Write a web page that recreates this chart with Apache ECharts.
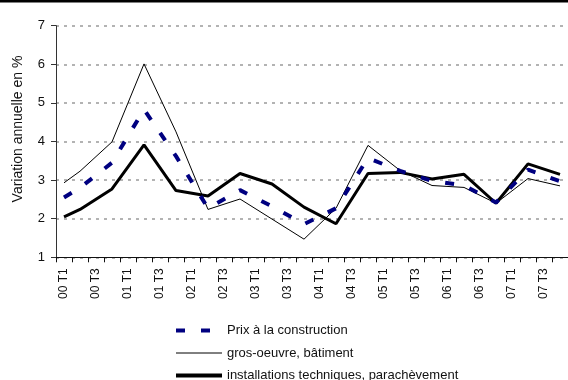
<!DOCTYPE html>
<html>
<head>
<meta charset="utf-8">
<script src="https://cdn.jsdelivr.net/npm/echarts@6/dist/echarts.min.js"></script>
<style>
  html, body { margin: 0; padding: 0; background: #fff; }
  #chart { width: 568px; height: 380px; }
</style>
</head>
<body>
<div id="chart"></div>
<script>
// Quarters (T1..T4) from 2000 to 2007
const quarters = [
  '00 T1','00 T2','00 T3','00 T4','01 T1','01 T2','01 T3','01 T4',
  '02 T1','02 T2','02 T3','02 T4','03 T1','03 T2','03 T3','03 T4',
  '04 T1','04 T2','04 T3','04 T4','05 T1','05 T2','05 T3','05 T4',
  '06 T1','06 T2','06 T3','06 T4','07 T1','07 T2','07 T3','07 T4'
];

// Annual change in %, null where no value is published (line joins across)
const prixConstruction = [
  2.55, 2.80, null, 3.45, null, 4.83, null, 3.62,
  null, 2.27, null, 2.74, null, 2.32, null, 1.86,
  null, 2.27, null, 3.57, null, 3.24, null, 2.98,
  null, 2.86, null, 2.42, null, 3.27, null, 2.97
];
const grosOeuvre = [
  2.93, 3.23, null, 3.99, null, 6.01, null, 4.25,
  null, 2.24, null, 2.51, null, 1.99, null, 1.47,
  null, 2.27, null, 3.90, null, 3.25, null, 2.86,
  null, 2.81, null, 2.40, null, 3.04, null, 2.85
];
const installations = [
  2.05, 2.24, null, 2.77, null, 3.91, null, 2.73,
  null, 2.59, null, 3.17, null, 2.90, null, 2.30,
  null, 1.87, null, 3.17, null, 3.20, null, 3.03,
  null, 3.15, null, 2.40, null, 3.42, null, 3.15
];

const seriesNames = [
  'Prix à la construction',
  'gros-oeuvre, bâtiment',
  'installations techniques, parachèvement'
];
const yTicks = { min: 1, max: 7, step: 1 };

const FONT = '"Liberation Sans", Arial, sans-serif';
const chart = echarts.init(document.getElementById('chart'), null, { renderer: 'canvas' });

chart.setOption({
  animation: false,
  backgroundColor: '#fff',
  graphic: [{
    type: 'rect',
    left: 0, top: 0,
    shape: { width: 568, height: 2.5 },
    style: { fill: '#000' }
  }],
  grid: { left: 56, top: 25.7, width: 521.3, height: 231.6, containLabel: false },
  legend: {
    orient: 'vertical',
    left: 174,
    top: 324,
    height: 120,
    padding: 0,
    itemWidth: 46,
    itemHeight: 14,
    itemGap: 9.5,
    itemStyle: { opacity: 0, borderWidth: 0 },
    textStyle: { fontFamily: FONT, fontSize: 13, color: '#111' },
    data: [
      { name: seriesNames[0], lineStyle: { type: [9, 16], width: 4, color: '#000080' } },
      { name: seriesNames[1], lineStyle: { width: 1, color: '#000' } },
      { name: seriesNames[2], lineStyle: { width: 4, color: '#000' } }
    ]
  },
  xAxis: {
    type: 'category',
    data: quarters,
    boundaryGap: true,
    axisLine: { lineStyle: { color: '#111', width: 1 } },
    axisTick: { show: true, interval: 0, length: 5, lineStyle: { color: '#111' } },
    axisLabel: {
      interval: 1,
      rotate: 90,
      margin: 11,
      fontFamily: FONT,
      fontSize: 12,
      color: '#111'
    },
    splitLine: { show: false }
  },
  yAxis: {
    type: 'value',
    min: yTicks.min,
    max: yTicks.max,
    interval: yTicks.step,
    name: 'Variation annuelle en %',
    nameLocation: 'middle',
    nameRotate: 90,
    nameGap: 31,
    nameTextStyle: { fontFamily: FONT, fontSize: 14, color: '#111', padding: [0, 0, 0, 25] },
    axisLine: { show: true, lineStyle: { color: '#333', width: 1 } },
    axisTick: { show: true, length: 5, lineStyle: { color: '#333' } },
    axisLabel: { margin: 11, fontFamily: FONT, fontSize: 13, color: '#111' },
    splitLine: { show: true, lineStyle: { color: '#b3b3b3', width: 2, type: [3, 5] } }
  },
  series: [
    {
      name: seriesNames[0],
      type: 'line',
      data: prixConstruction,
      connectNulls: true,
      showSymbol: false,
      symbol: 'none',
      z: 5,
      lineStyle: { color: '#000080', width: 4, type: [9, 16], cap: 'butt' },
      itemStyle: { color: '#000080' }
    },
    {
      name: seriesNames[1],
      type: 'line',
      data: grosOeuvre,
      connectNulls: true,
      showSymbol: false,
      symbol: 'none',
      z: 3,
      lineStyle: { color: '#000', width: 1 },
      itemStyle: { color: '#000' }
    },
    {
      name: seriesNames[2],
      type: 'line',
      data: installations,
      connectNulls: true,
      showSymbol: false,
      symbol: 'none',
      z: 4,
      lineStyle: { color: '#000', width: 3 },
      itemStyle: { color: '#000' }
    }
  ]
});
</script>
</body>
</html>
